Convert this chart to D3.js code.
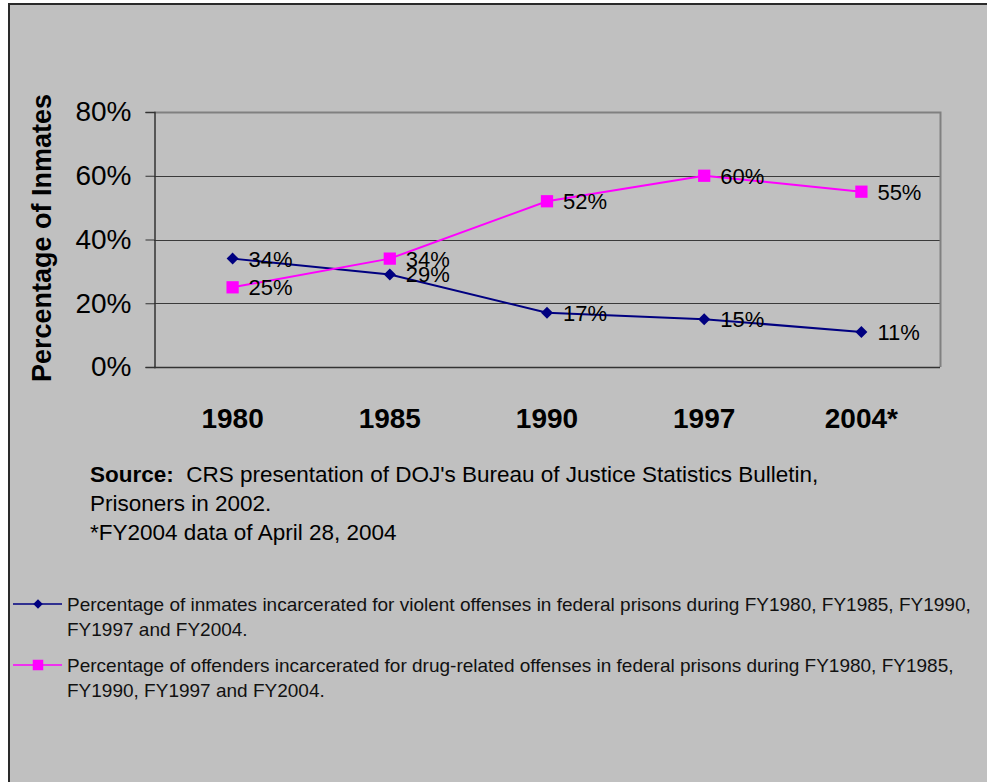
<!DOCTYPE html>
<html>
<head>
<meta charset="utf-8">
<script src="https://cdn.jsdelivr.net/npm/d3@7"></script>
<style>
  body { margin: 0; background: #fff; }
  svg { display: block; font-family: "Liberation Sans", Arial, sans-serif; }
</style>
</head>
<body>
<div id="chart"></div>
<script>
// chart values
const years = ["1980", "1985", "1990", "1997", "2004*"];
const violentPct = [34, 29, 17, 15, 11];
const drugPct = [25, 34, 52, 60, 55];
const yTicks = [0, 20, 40, 60, 80];

const legendLabels = [
  ["Percentage of inmates incarcerated for violent offenses in federal prisons during FY1980, FY1985, FY1990,",
   "FY1997 and FY2004."],
  ["Percentage of offenders incarcerated for drug-related offenses in federal prisons during FY1980, FY1985,",
   "FY1990, FY1997 and FY2004."]
];

const width = 987, height = 782;
const plot = {left: 154, top: 112, right: 940, bottom: 367};

const svg = d3.select("#chart")
  .append("svg")
  .attr("width", width)
  .attr("height", height);

// gray chart area with dark frame
svg.append("rect")
  .attr("x", 9).attr("y", 4)
  .attr("width", width + 10).attr("height", height + 10)
  .attr("fill", "#c0c0c0")
  .attr("stroke", "#2a2a2a")
  .attr("stroke-width", 2);

const x = d3.scaleBand()
  .domain(years)
  .range([plot.left, plot.right]);

const y = d3.scaleLinear()
  .domain([0, 80])
  .range([plot.bottom, plot.top]);

// gridlines
svg.append("g")
  .selectAll("line")
  .data(yTicks.filter(d => d > 0 && d < 80))
  .join("line")
  .attr("x1", plot.left).attr("x2", plot.right)
  .attr("y1", d => Math.round(y(d)) + 0.5)
  .attr("y2", d => Math.round(y(d)) + 0.5)
  .attr("stroke", "#3a3a3a")
  .attr("stroke-width", 1);

// plot border (top/right lighter)
svg.append("path")
  .attr("d", `M${plot.left},${plot.top + 0.5}H${plot.right + 0.5}V${plot.bottom}`)
  .attr("fill", "none")
  .attr("stroke", "#808080")
  .attr("stroke-width", 2);

// y axis
const yAxis = d3.axisLeft(y)
  .tickValues(yTicks)
  .tickSize(9)
  .tickPadding(14)
  .tickFormat(d => d + "%");

const gy = svg.append("g")
  .attr("transform", `translate(${plot.left + 0.5},0)`)
  .call(yAxis);
gy.select(".domain").attr("stroke", "#333").attr("stroke-width", 1.5);
gy.selectAll(".tick line").attr("stroke", "#333");
gy.selectAll(".tick text")
  .attr("fill", "#000")
  .style("font-size", "28px")
  .style("font-family", "'Liberation Sans', Arial, sans-serif");

// x axis baseline
svg.append("line")
  .attr("x1", plot.left).attr("x2", plot.right)
  .attr("y1", plot.bottom + 0.5).attr("y2", plot.bottom + 0.5)
  .attr("stroke", "#333")
  .attr("stroke-width", 1.5);

// x labels
svg.append("g")
  .selectAll("text")
  .data(years)
  .join("text")
  .attr("x", d => x(d) + x.bandwidth() / 2)
  .attr("y", 428)
  .attr("text-anchor", "middle")
  .style("font-size", "28px")
  .style("font-weight", "bold")
  .text(d => d);

// y title
svg.append("text")
  .attr("transform", "translate(51,238) rotate(-90)")
  .attr("text-anchor", "middle")
  .style("font-size", "27px")
  .style("font-weight", "bold")
  .text("Percentage of Inmates");

// diamond = square turned 45deg
const series = [
  {values: violentPct, color: "#000080", symbol: d3.symbolSquare, size: 72, rot: 45},
  {values: drugPct, color: "#ff00ff", symbol: d3.symbolSquare, size: 150, rot: 0}
];

const line = d3.line()
  .x((d, i) => x(years[i]) + x.bandwidth() / 2)
  .y(d => y(d));

series.forEach(s => {
  svg.append("path")
    .datum(s.values)
    .attr("d", line)
    .attr("fill", "none")
    .attr("stroke", s.color)
    .attr("stroke-width", 2);

  svg.append("g")
    .selectAll("path")
    .data(s.values)
    .join("path")
    .attr("transform", (d, i) => `translate(${x(years[i]) + x.bandwidth() / 2},${y(d)}) rotate(${s.rot})`)
    .attr("d", d3.symbol().type(s.symbol).size(s.size))
    .attr("fill", s.color);
});

// data labels (drawn after both lines)
series.forEach(s => {
  svg.append("g")
    .selectAll("text")
    .data(s.values)
    .join("text")
    .attr("x", (d, i) => x(years[i]) + x.bandwidth() / 2 + 16)
    .attr("y", d => y(d))
    .attr("dy", "0.36em")
    .style("font-size", "22px")
    .text(d => d + "%");
});

// source note
const note = svg.append("g").style("font-size", "22.5px");
const t1 = note.append("text").attr("x", 90).attr("y", 482);
t1.append("tspan").style("font-weight", "bold").text("Source:");
t1.append("tspan").text("\u00a0 CRS presentation of DOJ's Bureau of Justice Statistics Bulletin,");
note.append("text").attr("x", 90).attr("y", 511).text("Prisoners in 2002.");
note.append("text").attr("x", 90).attr("y", 540).text("*FY2004 data of April 28, 2004");

// legend
const legendY = [604, 665];
legendLabels.forEach((lines, k) => {
  const s = series[k];
  const g = svg.append("g").attr("transform", `translate(0,${legendY[k]})`);
  g.append("line")
    .attr("x1", 13).attr("x2", 62)
    .attr("y1", 0).attr("y2", 0)
    .attr("stroke", s.color)
    .attr("stroke-width", 1.5);
  g.append("path")
    .attr("transform", `translate(38,0) rotate(${s.rot})`)
    .attr("d", d3.symbol().type(s.symbol).size(k === 0 ? 45 : 110))
    .attr("fill", s.color);
  lines.forEach((txt, j) => {
    g.append("text")
      .attr("x", 67)
      .attr("y", 7 + j * 25)
      .style("font-size", "19px")
      .attr("fill", "#111")
      .text(txt);
  });
});
</script>
</body>
</html>
